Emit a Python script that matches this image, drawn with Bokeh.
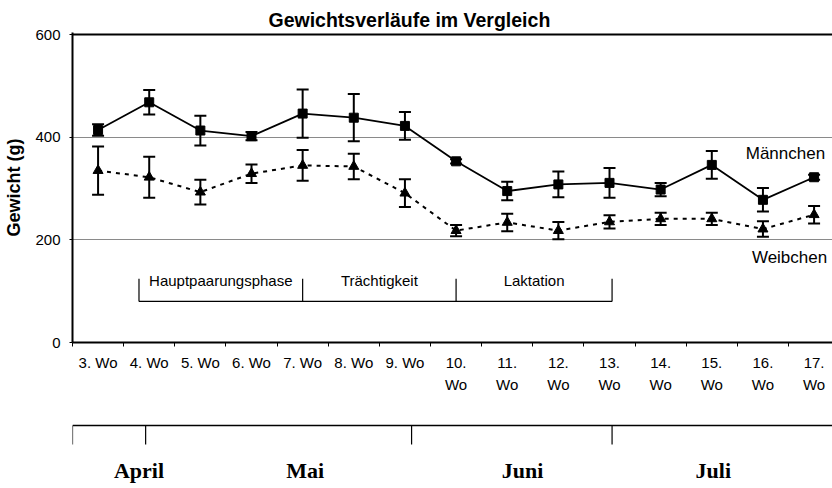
from bokeh.plotting import figure
from bokeh.models import Range1d, FixedTicker, Span, Whisker, TeeHead, ColumnDataSource
from bokeh.layouts import column
from bokeh.core.properties import value
from bokeh.embed import file_html
from bokeh.resources import INLINE

# ---------------- data ----------------
weeks = [3, 4, 5, 6, 7, 8, 9, 10, 11, 12, 13, 14, 15, 16, 17]
week_labels = ["3. Wo", "4. Wo", "5. Wo", "6. Wo", "7. Wo", "8. Wo", "9. Wo",
               "10.\nWo", "11.\nWo", "12.\nWo", "13.\nWo", "14.\nWo", "15.\nWo",
               "16.\nWo", "17.\nWo"]
male_mean = [414, 468, 413, 402, 446, 438, 422, 353, 295, 308, 311, 298, 346, 278, 322]
male_sd = [11, 24, 29, 8, 47, 46, 27, 4, 18, 25, 29, 13, 27, 23, 5]
female_mean = [335, 322, 293, 329, 345, 343, 291, 218, 234, 218, 235, 241, 241, 221, 249]
female_sd = [47, 40, 24, 18, 30, 25, 27, 11, 17, 17, 13, 12, 12, 15, 17]
series_names = ["Männchen", "Weibchen"]

phase_names = ["Hauptpaarungsphase", "Trächtigkeit", "Laktation"]
phase_start = [3.8, 7.0, 10.0]
phase_end = [7.0, 10.0, 13.05]

months = ["April", "Mai", "Juni", "Juli"]
month_label_x = [3.8, 7.05, 11.3, 15.03]
month_edges = [2.5, 3.93, 9.13, 13.05]

y_ticks = [0, 200, 400, 600]
grid_ticks = [200, 400]

# ---------------- styling constants ----------------
SANS = "Liberation Sans"
SERIF = "Liberation Serif"
BRACKET_Y = 80
BRACKET_TOP = 124
PHASE_LABEL_Y = 121
MALE_LABEL = (16.44, 368)
FEMALE_LABEL = (16.52, 166)

xr = Range1d(2.5, 17.36)

p = figure(width=832, height=400, x_range=xr, y_range=Range1d(0, 604),
           output_backend="svg", toolbar_location=None,
           min_border_left=72, min_border_right=0, min_border_top=32,
           min_border_bottom=58, title="Gewichtsverläufe im Vergleich")
p.outline_line_color = None
p.background_fill_color = "white"
p.border_fill_color = "white"

p.title.text_font = SANS
p.title.text_font_size = "19.5px"
p.title.text_font_style = "bold"
p.title.text_color = "black"
p.title.align = "left"
p.title.offset = 196
p.title.standoff = 4

yax = p.yaxis[0]
yax.ticker = FixedTicker(ticks=y_ticks)
yax.axis_label = "Gewicht (g)"
yax.axis_label_text_font = SANS
yax.axis_label_text_font_size = "18px"
yax.axis_label_text_font_style = "bold"
yax.axis_label_text_color = "black"
yax.axis_label_standoff = 8
yax.major_label_text_font = SANS
yax.major_label_text_font_size = "15px"
yax.major_label_text_color = "black"
yax.major_tick_out = 3
yax.major_tick_in = 0
yax.major_label_standoff = 9
yax.minor_tick_line_color = None
yax.axis_line_width = 2
yax.axis_line_color = "black"

xax = p.xaxis[0]
xax.ticker = FixedTicker(ticks=weeks, minor_ticks=[w - 0.5 for w in weeks] + [weeks[-1] + 0.5])
xax.major_label_overrides = dict(zip(weeks, week_labels))
xax.major_tick_line_color = None
xax.minor_tick_out = 4
xax.minor_tick_in = 0
xax.minor_tick_line_color = "black"
xax.axis_line_width = 2
xax.axis_line_color = "black"
xax.major_label_standoff = 5
xax.major_label_text_font = SANS
xax.major_label_text_font_size = "15px"
xax.major_label_text_color = "black"
xax.major_label_text_line_height = 1.3

p.xgrid.visible = False
p.ygrid.ticker = FixedTicker(ticks=grid_ticks)
p.ygrid.grid_line_color = "#8a8a8a"
p.ygrid.grid_line_width = 1

p.add_layout(Span(location=y_ticks[-1], dimension="width", line_color="black", line_width=2))

# error bars
msrc = ColumnDataSource(dict(x=weeks, y=male_mean,
                             lo=[m - s for m, s in zip(male_mean, male_sd)],
                             hi=[m + s for m, s in zip(male_mean, male_sd)]))
fsrc = ColumnDataSource(dict(x=weeks, y=female_mean,
                             lo=[m - s for m, s in zip(female_mean, female_sd)],
                             hi=[m + s for m, s in zip(female_mean, female_sd)]))
for src in (msrc, fsrc):
    p.add_layout(Whisker(source=src, base="x", lower="lo", upper="hi",
                         line_color="black", line_width=2,
                         upper_head=TeeHead(size=12, line_width=2, line_color="black"),
                         lower_head=TeeHead(size=12, line_width=2, line_color="black")))

p.line("x", "y", source=msrc, line_color="black", line_width=1.8)
p.scatter("x", "y", source=msrc, marker="square", size=9, color="black")
p.line("x", "y", source=fsrc, line_color="black", line_width=2, line_dash="4 5")
p.scatter("x", "y", source=fsrc, marker="triangle", size=10, color="black")

# series labels
p.text(x=[MALE_LABEL[0], FEMALE_LABEL[0]], y=[MALE_LABEL[1], FEMALE_LABEL[1]], text=series_names,
       text_font=value(SANS), text_font_size="17px", text_color="black",
       text_align="center", text_baseline="middle")

# phase brackets
bounds = phase_start + [phase_end[-1]]
p.segment(x0=[phase_start[0]], y0=[BRACKET_Y], x1=[phase_end[-1]], y1=[BRACKET_Y],
          line_color="black", line_width=1.2)
p.segment(x0=bounds, y0=[BRACKET_Y] * len(bounds), x1=bounds, y1=[BRACKET_TOP] * len(bounds),
          line_color="black", line_width=1.2)
p.text(x=[(s + e) / 2 for s, e in zip(phase_start, phase_end)], y=[PHASE_LABEL_Y] * 3,
       text=phase_names, text_font=value(SANS), text_font_size="15px", text_color="black",
       text_align="center", text_baseline="middle")

# ---------------- month timeline ----------------
q = figure(width=832, height=88, x_range=xr, y_range=Range1d(88, 0),
           output_backend="svg", toolbar_location=None,
           x_axis_location=None, y_axis_location=None,
           min_border_left=72, min_border_right=0, min_border_top=0, min_border_bottom=0)
q.outline_line_color = None
q.grid.visible = False
q.segment(x0=[month_edges[0]], y0=[25], x1=[xr.end], y1=[25], line_color="black", line_width=1.5)
q.segment(x0=month_edges, y0=[25] * len(month_edges), x1=month_edges, y1=[44] * len(month_edges),
          line_color="black", line_width=1.2)
q.text(x=month_label_x, y=[70] * len(months), text=months, text_font=value(SERIF),
       text_font_size="22px", text_font_style="bold", text_color="black",
       text_align="center", text_baseline="middle")

layout = column(p, q)
open("out.html", "w").write(file_html(layout, INLINE))
